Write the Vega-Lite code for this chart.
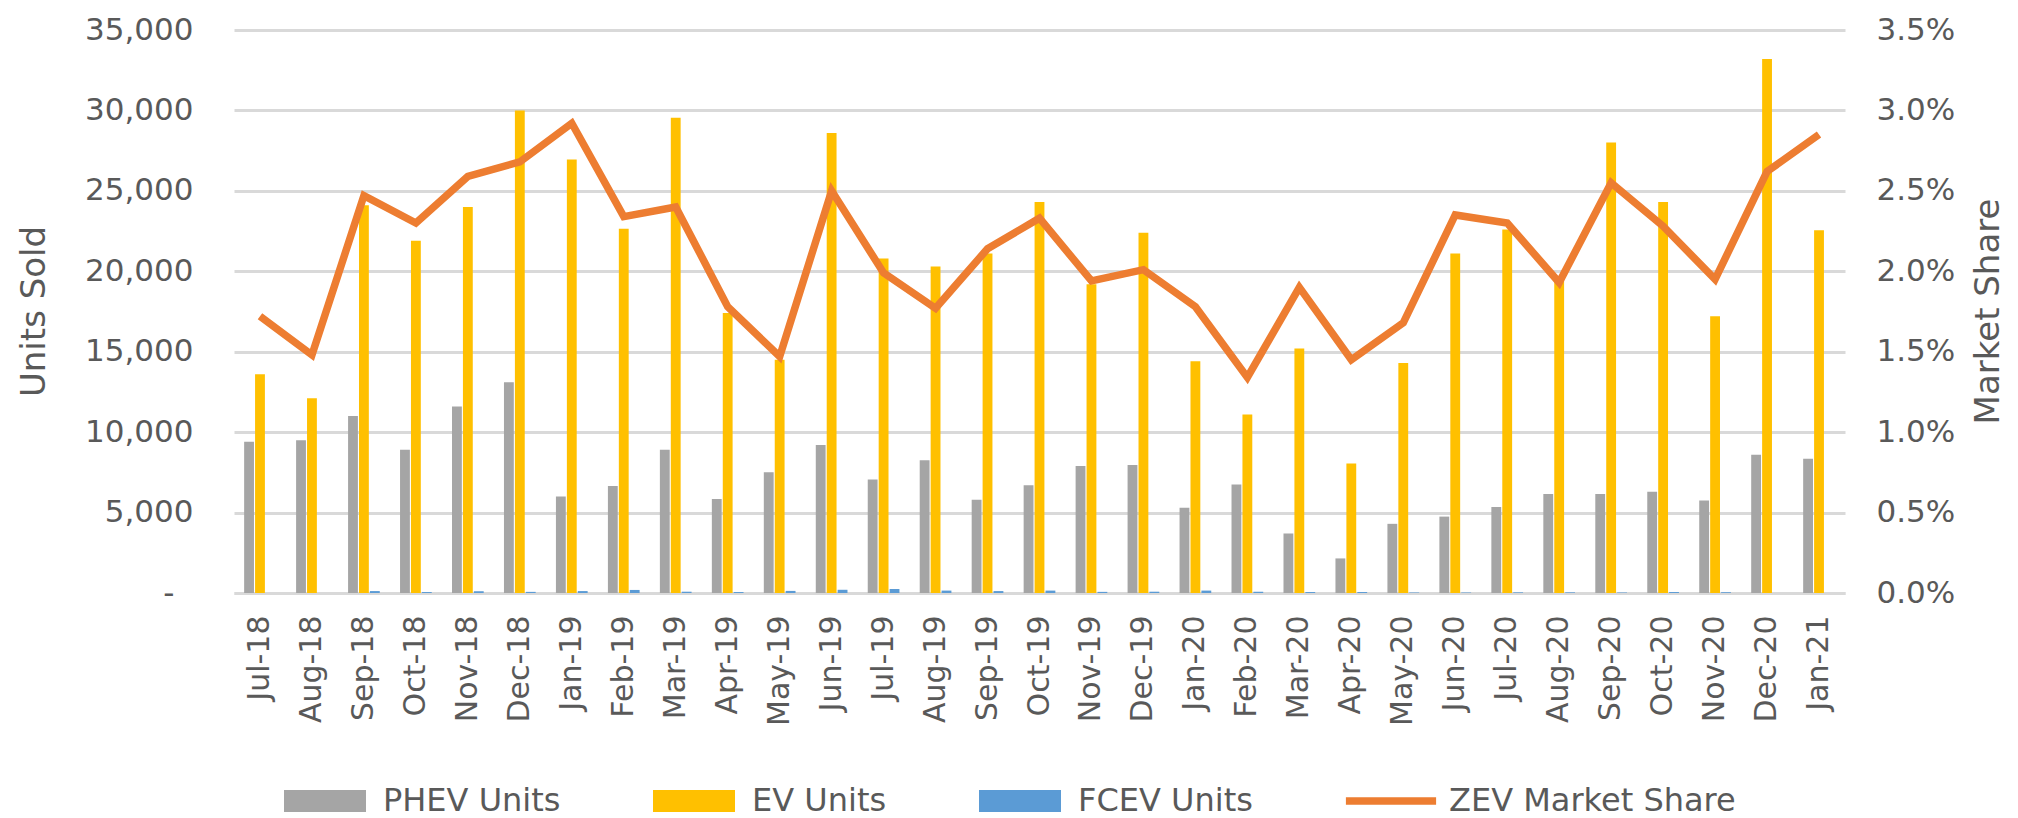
{
  "$schema": "https://vega.github.io/schema/vega-lite/v6.json",
  "width": 1611,
  "height": 563,
  "autosize": {"type": "none"},
  "padding": {"left": 234, "top": 30, "right": 173, "bottom": 225},
  "background": "white",
  "config": {
    "font": "DejaVu Sans",
    "view": {"stroke": null}
  },
  "datasets": {
    "units": [
      {"month": "Jul-18", "series": "PHEV Units", "units": 9400}, {"month": "Jul-18", "series": "EV Units", "units": 13600}, {"month": "Jul-18", "series": "FCEV Units", "units": 0},
      {"month": "Aug-18", "series": "PHEV Units", "units": 9500}, {"month": "Aug-18", "series": "EV Units", "units": 12100}, {"month": "Aug-18", "series": "FCEV Units", "units": 0},
      {"month": "Sep-18", "series": "PHEV Units", "units": 11000}, {"month": "Sep-18", "series": "EV Units", "units": 24100}, {"month": "Sep-18", "series": "FCEV Units", "units": 120},
      {"month": "Oct-18", "series": "PHEV Units", "units": 8900}, {"month": "Oct-18", "series": "EV Units", "units": 21900}, {"month": "Oct-18", "series": "FCEV Units", "units": 60},
      {"month": "Nov-18", "series": "PHEV Units", "units": 11600}, {"month": "Nov-18", "series": "EV Units", "units": 24000}, {"month": "Nov-18", "series": "FCEV Units", "units": 110},
      {"month": "Dec-18", "series": "PHEV Units", "units": 13100}, {"month": "Dec-18", "series": "EV Units", "units": 30000}, {"month": "Dec-18", "series": "FCEV Units", "units": 70},
      {"month": "Jan-19", "series": "PHEV Units", "units": 6000}, {"month": "Jan-19", "series": "EV Units", "units": 26950}, {"month": "Jan-19", "series": "FCEV Units", "units": 120},
      {"month": "Feb-19", "series": "PHEV Units", "units": 6650}, {"month": "Feb-19", "series": "EV Units", "units": 22650}, {"month": "Feb-19", "series": "FCEV Units", "units": 190},
      {"month": "Mar-19", "series": "PHEV Units", "units": 8900}, {"month": "Mar-19", "series": "EV Units", "units": 29550}, {"month": "Mar-19", "series": "FCEV Units", "units": 80},
      {"month": "Apr-19", "series": "PHEV Units", "units": 5850}, {"month": "Apr-19", "series": "EV Units", "units": 17400}, {"month": "Apr-19", "series": "FCEV Units", "units": 60},
      {"month": "May-19", "series": "PHEV Units", "units": 7500}, {"month": "May-19", "series": "EV Units", "units": 14500}, {"month": "May-19", "series": "FCEV Units", "units": 130},
      {"month": "Jun-19", "series": "PHEV Units", "units": 9200}, {"month": "Jun-19", "series": "EV Units", "units": 28600}, {"month": "Jun-19", "series": "FCEV Units", "units": 200},
      {"month": "Jul-19", "series": "PHEV Units", "units": 7050}, {"month": "Jul-19", "series": "EV Units", "units": 20800}, {"month": "Jul-19", "series": "FCEV Units", "units": 250},
      {"month": "Aug-19", "series": "PHEV Units", "units": 8250}, {"month": "Aug-19", "series": "EV Units", "units": 20300}, {"month": "Aug-19", "series": "FCEV Units", "units": 150},
      {"month": "Sep-19", "series": "PHEV Units", "units": 5800}, {"month": "Sep-19", "series": "EV Units", "units": 21100}, {"month": "Sep-19", "series": "FCEV Units", "units": 120},
      {"month": "Oct-19", "series": "PHEV Units", "units": 6700}, {"month": "Oct-19", "series": "EV Units", "units": 24300}, {"month": "Oct-19", "series": "FCEV Units", "units": 150},
      {"month": "Nov-19", "series": "PHEV Units", "units": 7900}, {"month": "Nov-19", "series": "EV Units", "units": 19200}, {"month": "Nov-19", "series": "FCEV Units", "units": 70},
      {"month": "Dec-19", "series": "PHEV Units", "units": 7950}, {"month": "Dec-19", "series": "EV Units", "units": 22400}, {"month": "Dec-19", "series": "FCEV Units", "units": 80},
      {"month": "Jan-20", "series": "PHEV Units", "units": 5300}, {"month": "Jan-20", "series": "EV Units", "units": 14400}, {"month": "Jan-20", "series": "FCEV Units", "units": 150},
      {"month": "Feb-20", "series": "PHEV Units", "units": 6750}, {"month": "Feb-20", "series": "EV Units", "units": 11100}, {"month": "Feb-20", "series": "FCEV Units", "units": 70},
      {"month": "Mar-20", "series": "PHEV Units", "units": 3700}, {"month": "Mar-20", "series": "EV Units", "units": 15200}, {"month": "Mar-20", "series": "FCEV Units", "units": 60},
      {"month": "Apr-20", "series": "PHEV Units", "units": 2150}, {"month": "Apr-20", "series": "EV Units", "units": 8050}, {"month": "Apr-20", "series": "FCEV Units", "units": 60},
      {"month": "May-20", "series": "PHEV Units", "units": 4300}, {"month": "May-20", "series": "EV Units", "units": 14300}, {"month": "May-20", "series": "FCEV Units", "units": 30},
      {"month": "Jun-20", "series": "PHEV Units", "units": 4750}, {"month": "Jun-20", "series": "EV Units", "units": 21100}, {"month": "Jun-20", "series": "FCEV Units", "units": 30},
      {"month": "Jul-20", "series": "PHEV Units", "units": 5350}, {"month": "Jul-20", "series": "EV Units", "units": 22600}, {"month": "Jul-20", "series": "FCEV Units", "units": 40},
      {"month": "Aug-20", "series": "PHEV Units", "units": 6150}, {"month": "Aug-20", "series": "EV Units", "units": 19650}, {"month": "Aug-20", "series": "FCEV Units", "units": 40},
      {"month": "Sep-20", "series": "PHEV Units", "units": 6150}, {"month": "Sep-20", "series": "EV Units", "units": 28000}, {"month": "Sep-20", "series": "FCEV Units", "units": 30},
      {"month": "Oct-20", "series": "PHEV Units", "units": 6300}, {"month": "Oct-20", "series": "EV Units", "units": 24300}, {"month": "Oct-20", "series": "FCEV Units", "units": 60},
      {"month": "Nov-20", "series": "PHEV Units", "units": 5750}, {"month": "Nov-20", "series": "EV Units", "units": 17200}, {"month": "Nov-20", "series": "FCEV Units", "units": 50},
      {"month": "Dec-20", "series": "PHEV Units", "units": 8600}, {"month": "Dec-20", "series": "EV Units", "units": 33200}, {"month": "Dec-20", "series": "FCEV Units", "units": 0},
      {"month": "Jan-21", "series": "PHEV Units", "units": 8350}, {"month": "Jan-21", "series": "EV Units", "units": 22550}, {"month": "Jan-21", "series": "FCEV Units", "units": 0}
    ],
    "share": [
      {"month": "Jul-18", "share": 0.0172}, {"month": "Aug-18", "share": 0.0148}, {"month": "Sep-18", "share": 0.0247},
      {"month": "Oct-18", "share": 0.0230}, {"month": "Nov-18", "share": 0.0259}, {"month": "Dec-18", "share": 0.0268},
      {"month": "Jan-19", "share": 0.0292}, {"month": "Feb-19", "share": 0.0234}, {"month": "Mar-19", "share": 0.0240},
      {"month": "Apr-19", "share": 0.0178}, {"month": "May-19", "share": 0.0147}, {"month": "Jun-19", "share": 0.0250},
      {"month": "Jul-19", "share": 0.0199}, {"month": "Aug-19", "share": 0.0177}, {"month": "Sep-19", "share": 0.0214},
      {"month": "Oct-19", "share": 0.0233}, {"month": "Nov-19", "share": 0.0194}, {"month": "Dec-19", "share": 0.0201},
      {"month": "Jan-20", "share": 0.0178}, {"month": "Feb-20", "share": 0.0134}, {"month": "Mar-20", "share": 0.0190},
      {"month": "Apr-20", "share": 0.0145}, {"month": "May-20", "share": 0.0168}, {"month": "Jun-20", "share": 0.0235},
      {"month": "Jul-20", "share": 0.0230}, {"month": "Aug-20", "share": 0.0193}, {"month": "Sep-20", "share": 0.0255},
      {"month": "Oct-20", "share": 0.0228}, {"month": "Nov-20", "share": 0.0195}, {"month": "Dec-20", "share": 0.0262},
      {"month": "Jan-21", "share": 0.0285}
    ]
  },
  "layer": [
    {
      "data": {"name": "units"},
      "mark": {"type": "bar"},
      "encoding": {
        "x": {
          "field": "month", "type": "nominal", "sort": null,
          "scale": {"paddingInner": 0.39, "paddingOuter": 0.195},
          "axis": {
            "title": null, "labelAngle": 270, "labelAlign": "right", "labelBaseline": "middle",
            "labelFontSize": 30, "labelColor": "#595959", "labelPadding": 22, "ticks": false,
            "domain": true, "domainColor": "#D9D9D9", "domainWidth": 3, "grid": false
          }
        },
        "xOffset": {
          "field": "series", "type": "nominal", "sort": ["PHEV Units", "EV Units", "FCEV Units"],
          "scale": {"paddingInner": 0.1}
        },
        "y": {
          "field": "units", "type": "quantitative",
          "scale": {"domain": [0, 35000], "nice": false},
          "axis": {
            "values": [0, 5000, 10000, 15000, 20000, 25000, 30000, 35000],
            "labelExpr": "datum.value == 0 ? '-' : format(datum.value, ',')",
            "labelFontSize": 31, "labelColor": "#595959",
            "labelPadding": {"condition": {"test": "datum.value === 0", "value": 60}, "value": 41},
            "domain": false, "ticks": false, "grid": true, "gridColor": "#D9D9D9", "gridWidth": 3,
            "title": "Units Sold", "titleFontSize": 34, "titleFontWeight": "normal", "titleColor": "#595959",
            "titleAngle": 270, "titleX": -200, "titleY": 281, "titleAlign": "center", "titleBaseline": "middle"
          }
        },
        "color": {
          "field": "series", "type": "nominal",
          "scale": {
            "domain": ["PHEV Units", "EV Units", "FCEV Units", "ZEV Market Share"],
            "range": ["#A5A5A5", "#FFC000", "#5B9BD5", "#ED7D31"]
          },
          "legend": {
            "title": null, "orient": "none", "direction": "horizontal",
            "legendX": 50, "legendY": 730,
            "symbolSize": 6724, "symbolStrokeWidth": 0, "symbolOpacity": 1,
            "labelFontSize": 32, "labelColor": "#595959", "labelOffset": 17, "columnPadding": 92,
            "labelLimit": 500,
            "encode": {
              "symbols": {
                "update": {
                  "shape": {"signal": "datum.value === 'ZEV Market Share' ? 'M-1.1,-0.09H1.1V0.09H-1.1Z' : 'M-1,-0.27H1V0.27H-1Z'"},
                  "fill": {"signal": "scale('color', datum.value)"},
                  "strokeWidth": {"value": 0},
                  "opacity": {"value": 1}
                }
              }
            }
          }
        }
      }
    },
    {
      "data": {"name": "share"},
      "mark": {"type": "line", "strokeWidth": 7.5, "strokeJoin": "miter"},
      "encoding": {
        "x": {"field": "month", "type": "nominal", "sort": null},
        "y": {
          "field": "share", "type": "quantitative",
          "scale": {"domain": [0, 0.035], "nice": false},
          "axis": {
            "orient": "right",
            "values": [0, 0.005, 0.01, 0.015, 0.02, 0.025, 0.03, 0.035],
            "format": ".1%",
            "labelFontSize": 31, "labelColor": "#595959", "labelPadding": 31,
            "domain": false, "ticks": false, "grid": false,
            "title": "Market Share", "titleFontSize": 34, "titleFontWeight": "normal", "titleColor": "#595959",
            "titleAngle": 270, "titleX": 143, "titleY": 281, "titleAlign": "center", "titleBaseline": "middle"
          }
        },
        "color": {"datum": "ZEV Market Share"}
      }
    }
  ],
  "resolve": {"scale": {"y": "independent"}}
}
